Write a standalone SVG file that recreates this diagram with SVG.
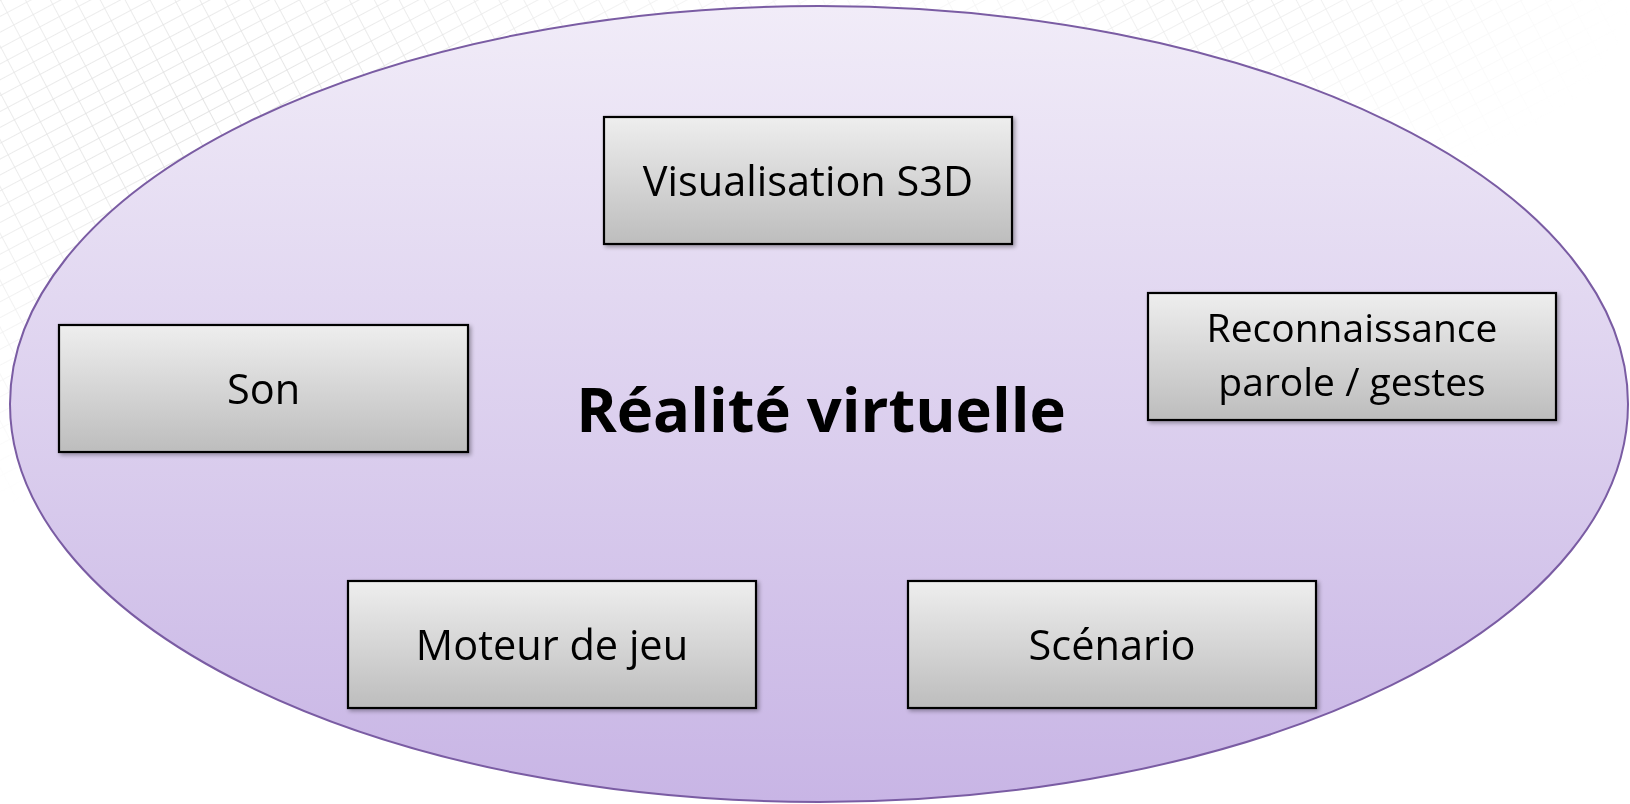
<svg xmlns="http://www.w3.org/2000/svg" width="1630" height="804" viewBox="0 0 1630 804">
  <style>
    .box { stroke: #000; stroke-width: 2.2; fill: url(#boxGrad); }
    .lbl { font-family: "Open Sans", "Liberation Sans", sans-serif; font-size: 41.5px; fill: #000; text-anchor: middle; }
    .lbl2 { font-family: "Open Sans", "Liberation Sans", sans-serif; font-size: 39px; fill: #000; text-anchor: middle; }
    .title { font-family: "Open Sans", "Liberation Sans", sans-serif; font-size: 61.5px; font-weight: bold; fill: #000; text-anchor: middle; }
  </style>
  <defs>
    <linearGradient id="ellGrad" x1="0" y1="0" x2="0" y2="1">
      <stop offset="0" stop-color="#f1ecf8"/>
      <stop offset="1" stop-color="#c8b5e5"/>
    </linearGradient>
    <linearGradient id="boxGrad" x1="0" y1="0" x2="0" y2="1">
      <stop offset="0" stop-color="#eeeeee"/>
      <stop offset="1" stop-color="#bdbdbd"/>
    </linearGradient>
    <pattern id="grid" width="22" height="14" patternUnits="userSpaceOnUse" patternTransform="rotate(-28)">
      <path d="M0 0 H22 M0 0 V14" stroke="#d6d6d6" stroke-width="1.5" fill="none"/>
    </pattern>
    <radialGradient id="fadeL" cx="0.15" cy="0.15" r="0.5">
      <stop offset="0" stop-color="#fff" stop-opacity="0.9"/>
      <stop offset="1" stop-color="#fff" stop-opacity="0"/>
    </radialGradient>
    <radialGradient id="fadeR" cx="0.75" cy="0.0" r="0.25">
      <stop offset="0" stop-color="#fff" stop-opacity="0.6"/>
      <stop offset="1" stop-color="#fff" stop-opacity="0"/>
    </radialGradient>
    <mask id="bgMask">
      <rect x="0" y="0" width="1630" height="804" fill="url(#fadeL)"/>
      <rect x="0" y="0" width="1630" height="804" fill="url(#fadeR)"/>
    </mask>
    <filter id="shadow" x="-5%" y="-5%" width="115%" height="120%">
      <feGaussianBlur in="SourceAlpha" stdDeviation="2"/>
      <feOffset dx="2" dy="2"/>
      <feComponentTransfer><feFuncA type="linear" slope="0.35"/></feComponentTransfer>
      <feMerge><feMergeNode/><feMergeNode in="SourceGraphic"/></feMerge>
    </filter>
  </defs>
  <rect x="0" y="0" width="1630" height="804" fill="#ffffff"/>
  <rect x="0" y="0" width="1630" height="804" fill="url(#grid)" mask="url(#bgMask)"/>

  <g id="ellipse">
    <ellipse cx="819" cy="404" rx="809" ry="398" fill="url(#ellGrad)" stroke="#7a5ca3" stroke-width="2"/>
    <text class="title" x="821" y="432">Réalité virtuelle</text>
  </g>

  <g id="connectors"></g>

  <g id="node-visualisation" filter="url(#shadow)">
    <rect class="box" x="604" y="117" width="408" height="127"/>
    <text class="lbl" x="808" y="196">Visualisation S3D</text>
  </g>
  <g id="node-son" filter="url(#shadow)">
    <rect class="box" x="59" y="325" width="409" height="127"/>
    <text class="lbl" x="263.5" y="404">Son</text>
  </g>
  <g id="node-reconnaissance" filter="url(#shadow)">
    <rect class="box" x="1148" y="293" width="408" height="127"/>
    <text class="lbl2" x="1352" y="342">Reconnaissance</text>
    <text class="lbl2" x="1352" y="396">parole / gestes</text>
  </g>
  <g id="node-moteur" filter="url(#shadow)">
    <rect class="box" x="348" y="581" width="408" height="127"/>
    <text class="lbl" x="552" y="660">Moteur de jeu</text>
  </g>
  <g id="node-scenario" filter="url(#shadow)">
    <rect class="box" x="908" y="581" width="408" height="127"/>
    <text class="lbl" x="1112" y="660">Scénario</text>
  </g>
</svg>
